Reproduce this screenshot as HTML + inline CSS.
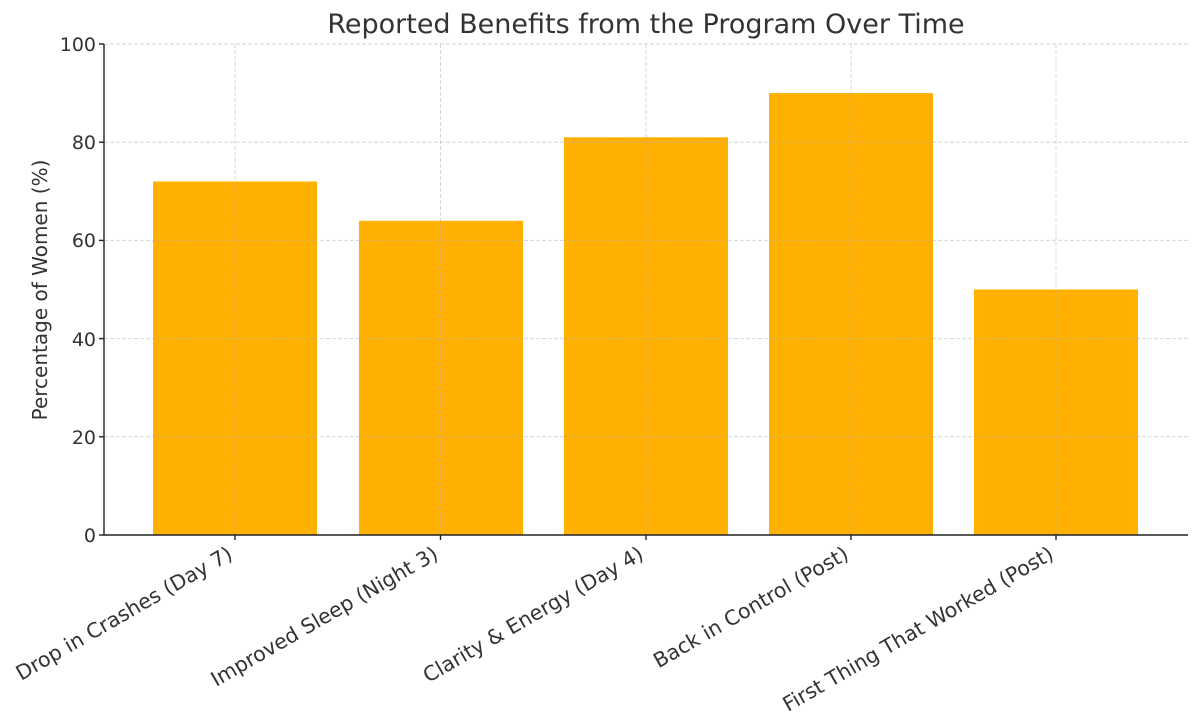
<!DOCTYPE html>
<html><head><meta charset="utf-8"><style>
html,body{margin:0;padding:0;background:#fff;}
svg{display:block;font-family:"DejaVu Sans","Liberation Sans",sans-serif;}
</style></head><body>
<svg width="1200" height="725" viewBox="0 0 1200 725" xmlns="http://www.w3.org/2000/svg">
<text x="646" y="33" font-size="27" fill="#333" text-anchor="middle">Reported Benefits from the Program Over Time</text>
<g fill="#FFB000">
<rect x="153" y="181.5" width="164" height="353.5"/>
<rect x="359" y="220.8" width="164" height="314.2"/>
<rect x="564" y="137.3" width="164" height="397.7"/>
<rect x="769" y="93.1" width="164" height="441.9"/>
<rect x="974" y="289.5" width="164" height="245.5"/>
</g>
<g stroke="#b0b0b0" stroke-opacity="0.5" stroke-width="1" stroke-dasharray="4,2">
<line x1="104" y1="44" x2="1188" y2="44"/>
<line x1="104" y1="142.2" x2="1188" y2="142.2"/>
<line x1="104" y1="240.4" x2="1188" y2="240.4"/>
<line x1="104" y1="338.6" x2="1188" y2="338.6"/>
<line x1="104" y1="436.8" x2="1188" y2="436.8"/>
<line x1="235" y1="44" x2="235" y2="535"/>
<line x1="440.5" y1="44" x2="440.5" y2="535"/>
<line x1="646" y1="44" x2="646" y2="535"/>
<line x1="851" y1="44" x2="851" y2="535"/>
<line x1="1056" y1="44" x2="1056" y2="535"/>
</g>
<g stroke="#222" stroke-width="1.4">
<line x1="104" y1="44" x2="104" y2="535.6"/>
<line x1="103.4" y1="535" x2="1188" y2="535"/>
<line x1="99" y1="44" x2="104" y2="44"/>
<line x1="99" y1="142.2" x2="104" y2="142.2"/>
<line x1="99" y1="240.4" x2="104" y2="240.4"/>
<line x1="99" y1="338.6" x2="104" y2="338.6"/>
<line x1="99" y1="436.8" x2="104" y2="436.8"/>
<line x1="99" y1="535" x2="104" y2="535"/>
<line x1="235" y1="535" x2="235" y2="540"/>
<line x1="440.5" y1="535" x2="440.5" y2="540"/>
<line x1="646" y1="535" x2="646" y2="540"/>
<line x1="851" y1="535" x2="851" y2="540"/>
<line x1="1056" y1="535" x2="1056" y2="540"/>
</g>
<g font-size="19" fill="#333" text-anchor="end">
<text x="96" y="51">100</text>
<text x="96" y="149">80</text>
<text x="96" y="247">60</text>
<text x="96" y="346">40</text>
<text x="96" y="444">20</text>
<text x="96" y="542">0</text>
</g>
<text transform="translate(47,290) rotate(-90)" font-size="20" fill="#333" text-anchor="middle">Percentage of Women (%)</text>
<g font-size="20.5" fill="#333" text-anchor="end">
<text transform="translate(234,558) rotate(-30)">Drop in Crashes (Day 7)</text>
<text transform="translate(439.5,558) rotate(-30)">Improved Sleep (Night 3)</text>
<text transform="translate(645,558) rotate(-30)">Clarity &amp; Energy (Day 4)</text>
<text transform="translate(850,558) rotate(-30)">Back in Control (Post)</text>
<text transform="translate(1055,558) rotate(-30)">First Thing That Worked (Post)</text>
</g>
</svg>
</body></html>
